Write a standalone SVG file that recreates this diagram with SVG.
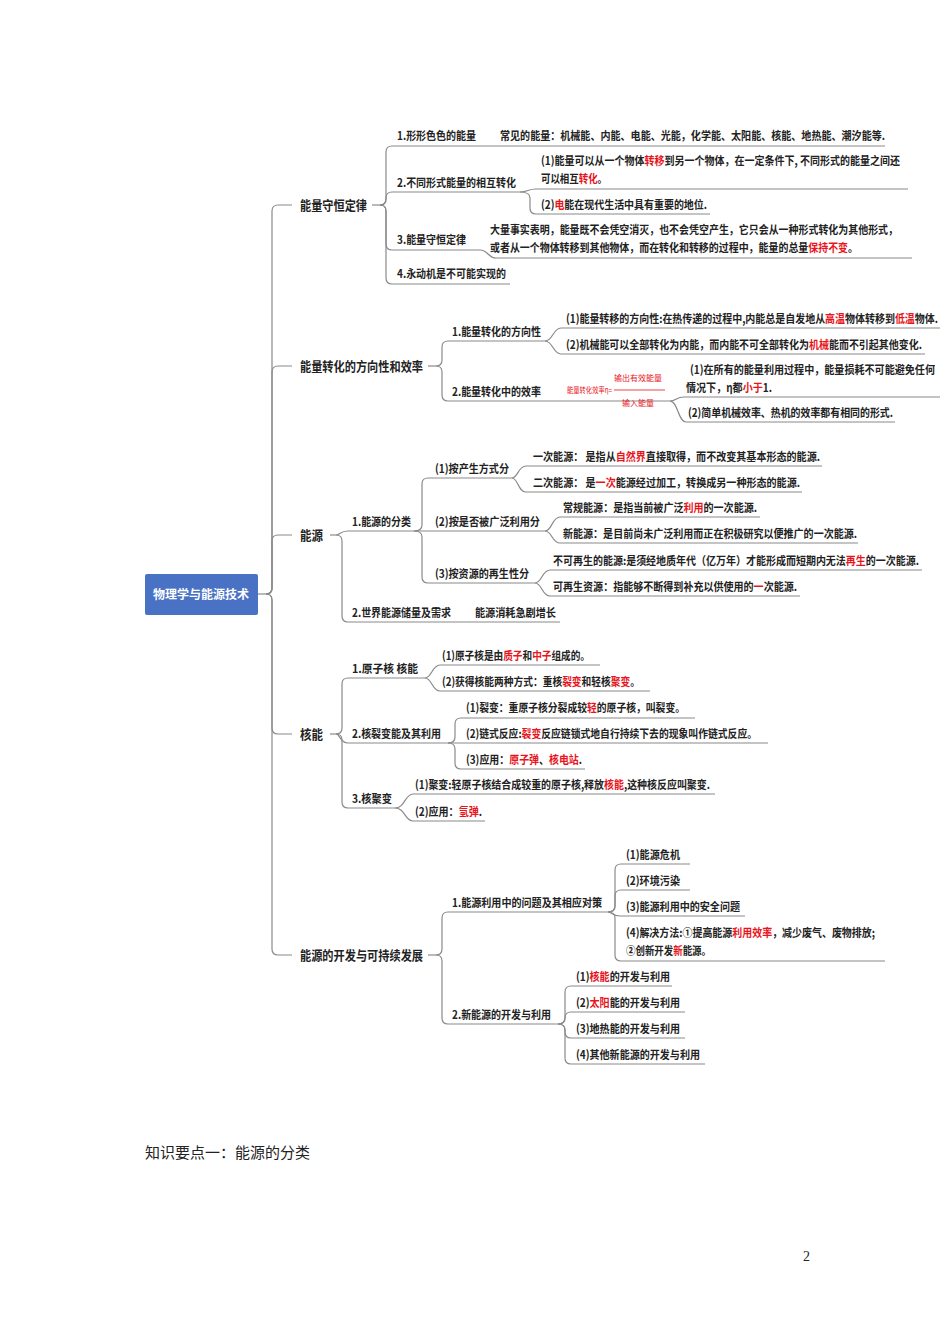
<svg xmlns="http://www.w3.org/2000/svg" width="950" height="1344" viewBox="0 0 950 1344">
<style>
text{font-family:"Noto Sans CJK SC","Noto Sans",sans-serif;font-weight:bold;font-size:11.5px;fill:#222}
.m{font-size:13px}
.r{fill:#e8141c}
.s{font-size:8px;font-weight:normal;fill:#e8141c}
#connectors path{fill:none;stroke:#8a8a8a;stroke-width:1.2}
</style>
<rect width="950" height="1344" fill="#fff"/>
<g id="connectors">
<path d="M258 594 H266"/>
<path d="M266 594 Q272 594 272 588 V211 Q272 205 278 205 H292"/>
<path d="M266 594 Q272 594 272 588 V372 Q272 366 278 366 H292"/>
<path d="M266 594 Q272 594 272 588 V541 Q272 535 278 535 H292"/>
<path d="M266 594 Q272 594 272 600 V728 Q272 734 278 734 H292"/>
<path d="M266 594 Q272 594 272 600 V949 Q272 955 278 955 H292"/>
<path d="M372 205 H380"/>
<path d="M380 205 Q386 205 386 199 V152 Q386 146 392 146 H885"/>
<path d="M380 205 Q386 205 386 199 V198 Q386 192 392 192 H520"/>
<path d="M380 205 Q386 205 386 211 V244 Q386 250 392 250 H480 C488 250 488 258 496 258 H912"/>
<path d="M380 205 Q386 205 386 211 V278 Q386 284 392 284 H510"/>
<path d="M520 192 C528 192 528 189 536 189 H908"/>
<path d="M520 192 Q530 192 530 198 V208 Q530 214 536 214 H710"/>
<path d="M428 366 H436"/>
<path d="M436 366 Q442 366 442 360 V347 Q442 341 448 341 H545"/>
<path d="M436 366 Q442 366 442 372 V395 Q442 401 448 401 H670"/>
<path d="M545 341 C553 341 553 328 561 328 H940"/>
<path d="M545 341 C553 341 553 354 561 354 H925"/>
<path d="M670 401 C676 401 676 397 684 397 H940"/>
<path d="M670 401 C678 401 678 422 686 422 H895"/>
<path d="M330 535 H336"/>
<path d="M336 535 C340 535 340 531 348 531 H414"/>
<path d="M336 535 Q342 535 342 541 V616 Q342 622 348 622 H560"/>
<path d="M414 531 Q422 531 422 525 V484 Q422 478 428 478 H512"/>
<path d="M414 531 H545"/>
<path d="M414 531 Q422 531 422 537 V577 Q422 583 428 583 H535"/>
<path d="M512 478 C518 478 518 466 526 466 H822"/>
<path d="M512 478 C518 478 518 492 526 492 H802"/>
<path d="M545 531 C552 531 552 517 560 517 H760"/>
<path d="M545 531 C552 531 552 543 560 543 H858"/>
<path d="M535 583 C542 583 542 570 550 570 H922"/>
<path d="M535 583 C542 583 542 596 550 596 H800"/>
<path d="M330 734 H336"/>
<path d="M336 734 Q342 734 342 728 V684 Q342 678 348 678 H425"/>
<path d="M336 734 C340 734 340 743 348 743 H448"/>
<path d="M336 734 Q342 734 342 740 V802 Q342 808 348 808 H395"/>
<path d="M425 678 C432 678 432 665 440 665 H600"/>
<path d="M425 678 C432 678 432 691 440 691 H650"/>
<path d="M448 743 Q455 743 455 737 V724 Q455 718 461 718 H695"/>
<path d="M448 743 H768"/>
<path d="M448 743 Q455 743 455 749 V763 Q455 769 461 769 H585"/>
<path d="M395 808 C405 808 405 794 413 794 H715"/>
<path d="M395 808 C405 808 405 821 413 821 H485"/>
<path d="M428 955 H436"/>
<path d="M436 955 Q442 955 442 949 V918 Q442 912 448 912 H608"/>
<path d="M436 955 Q442 955 442 961 V1018 Q442 1024 448 1024 H558"/>
<path d="M608 912 Q615 912 615 906 V870 Q615 864 621 864 H690"/>
<path d="M608 912 Q615 912 615 906 V896 Q615 890 621 890 H690"/>
<path d="M608 912 C612 912 612 916 620 916 H745"/>
<path d="M608 912 Q615 912 615 918 V955 Q615 961 621 961 H885"/>
<path d="M558 1024 Q565 1024 565 1018 V992 Q565 986 571 986 H672"/>
<path d="M558 1024 Q565 1024 565 1018 V1018 Q565 1012 571 1012 H685"/>
<path d="M558 1024 Q565 1024 565 1030 V1032 Q565 1038 571 1038 H685"/>
<path d="M558 1024 Q565 1024 565 1030 V1058 Q565 1064 571 1064 H705"/>
<line x1="614" y1="390" x2="665" y2="390" stroke="#e8141c" stroke-width="0.8"/>
</g>
<g id="root"><rect x="145" y="574" width="113" height="41" rx="2" fill="#4a72c4"/><text x="201" y="599" text-anchor="middle" style="fill:#fff;font-size:12px">物理学与能源技术</text></g>
<g id="n1"><text class="m" x="300" y="210" textLength="67" lengthAdjust="spacingAndGlyphs">能量守恒定律</text></g>
<g id="n1a"><text x="397" y="140" textLength="79" lengthAdjust="spacingAndGlyphs">1.形形色色的能量</text><text x="500" y="140" textLength="385" lengthAdjust="spacingAndGlyphs">常见的能量：机械能、内能、电能、光能，化学能、太阳能、核能、地热能、潮汐能等.</text></g>
<g id="n1b"><text x="397" y="187" textLength="119" lengthAdjust="spacingAndGlyphs">2.不同形式能量的相互转化</text>
<text x="541" y="165" textLength="359" lengthAdjust="spacingAndGlyphs">(1)能量可以从一个物体<tspan class="r">转移</tspan>到另一个物体，在一定条件下, 不同形式的能量之间还</text>
<text x="541" y="183" textLength="66" lengthAdjust="spacingAndGlyphs">可以相互<tspan class="r">转化</tspan>。</text>
<text x="541" y="209" textLength="166" lengthAdjust="spacingAndGlyphs">(2)<tspan class="r">电</tspan>能在现代生活中具有重要的地位.</text></g>
<g id="n1c"><text x="397" y="244" textLength="69" lengthAdjust="spacingAndGlyphs">3.能量守恒定律</text>
<text x="490" y="234" textLength="408" lengthAdjust="spacingAndGlyphs">大量事实表明，能量既不会凭空消灭，也不会凭空产生，它只会从一种形式转化为其他形式，</text>
<text x="490" y="252" textLength="368" lengthAdjust="spacingAndGlyphs">或者从一个物体转移到其他物体，而在转化和转移的过程中，能量的总量<tspan class="r">保持不变</tspan>。</text></g>
<g id="n1d"><text x="397" y="278" textLength="109" lengthAdjust="spacingAndGlyphs">4.永动机是不可能实现的</text></g>
<g id="n2"><text class="m" x="300" y="371" textLength="123" lengthAdjust="spacingAndGlyphs">能量转化的方向性和效率</text></g>
<g id="n2a"><text x="452" y="336" textLength="89" lengthAdjust="spacingAndGlyphs">1.能量转化的方向性</text>
<text x="566" y="323" textLength="372" lengthAdjust="spacingAndGlyphs">(1)能量转移的方向性:在热传递的过程中,内能总是自发地从<tspan class="r">高温</tspan>物体转移到<tspan class="r">低温</tspan>物体.</text>
<text x="566" y="349" textLength="356" lengthAdjust="spacingAndGlyphs">(2)机械能可以全部转化为内能，而内能不可全部转化为<tspan class="r">机械</tspan>能而不引起其他变化.</text></g>
<g id="n2b"><text x="452" y="396" textLength="89" lengthAdjust="spacingAndGlyphs">2.能量转化中的效率</text>
<text class="s" x="567" y="393" textLength="45" lengthAdjust="spacingAndGlyphs">能量转化效率η=</text>
<text class="s" x="638" y="381" text-anchor="middle">输出有效能量</text>
<text class="s" x="638" y="406" text-anchor="middle">输入能量</text>
<text x="690" y="374" textLength="245" lengthAdjust="spacingAndGlyphs">(1)在所有的能量利用过程中，能量损耗不可能避免任何</text>
<text x="686" y="392" textLength="86" lengthAdjust="spacingAndGlyphs">情况下，η都<tspan class="r">小于</tspan>1.</text>
<text x="688" y="417" textLength="205" lengthAdjust="spacingAndGlyphs">(2)简单机械效率、热机的效率都有相同的形式.</text></g>
<g id="n3"><text class="m" x="300" y="540" textLength="23" lengthAdjust="spacingAndGlyphs">能源</text></g>
<g id="n3a"><text x="352" y="526" textLength="59" lengthAdjust="spacingAndGlyphs">1.能源的分类</text>
<text x="435" y="473" textLength="74" lengthAdjust="spacingAndGlyphs">(1)按产生方式分</text>
<text x="533" y="461" textLength="287" lengthAdjust="spacingAndGlyphs">一次能源： 是指从<tspan class="r">自然界</tspan>直接取得，而不改变其基本形态的能源.</text>
<text x="533" y="487" textLength="267" lengthAdjust="spacingAndGlyphs">二次能源： 是<tspan class="r">一次</tspan>能源经过加工，转换成另一种形态的能源.</text>
<text x="435" y="526" textLength="105" lengthAdjust="spacingAndGlyphs">(2)按是否被广泛利用分</text>
<text x="563" y="512" textLength="194" lengthAdjust="spacingAndGlyphs">常规能源：是指当前被广泛<tspan class="r">利用</tspan>的一次能源.</text>
<text x="563" y="538" textLength="294" lengthAdjust="spacingAndGlyphs">新能源：是目前尚未广泛利用而正在积极研究以便推广的一次能源.</text>
<text x="435" y="578" textLength="94" lengthAdjust="spacingAndGlyphs">(3)按资源的再生性分</text>
<text x="553" y="565" textLength="366" lengthAdjust="spacingAndGlyphs">不可再生的能源:是须经地质年代（亿万年）才能形成而短期内无法<tspan class="r">再生</tspan>的一次能源.</text>
<text x="553" y="591" textLength="244" lengthAdjust="spacingAndGlyphs">可再生资源：指能够不断得到补充以供使用的<tspan class="r">一</tspan>次能源.</text></g>
<g id="n3b"><text x="352" y="617" textLength="99" lengthAdjust="spacingAndGlyphs">2.世界能源储量及需求</text><text x="475" y="617" textLength="81" lengthAdjust="spacingAndGlyphs">能源消耗急剧增长</text></g>
<g id="n4"><text class="m" x="300" y="739" textLength="23" lengthAdjust="spacingAndGlyphs">核能</text></g>
<g id="n4a"><text x="352" y="673" textLength="66" lengthAdjust="spacingAndGlyphs">1.原子核  核能</text>
<text x="442" y="660" textLength="148" lengthAdjust="spacingAndGlyphs">(1)原子核是由<tspan class="r">质子</tspan>和<tspan class="r">中子</tspan>组成的。</text>
<text x="442" y="686" textLength="198" lengthAdjust="spacingAndGlyphs">(2)获得核能两种方式：重核<tspan class="r">裂变</tspan>和轻核<tspan class="r">聚变</tspan>。</text></g>
<g id="n4b"><text x="352" y="738" textLength="89" lengthAdjust="spacingAndGlyphs">2.核裂变能及其利用</text>
<text x="466" y="712" textLength="219" lengthAdjust="spacingAndGlyphs">(1)裂变：重原子核分裂成较<tspan class="r">轻</tspan>的原子核，叫裂变。</text>
<text x="466" y="738" textLength="291" lengthAdjust="spacingAndGlyphs">(2)链式反应:<tspan class="r">裂变</tspan>反应链锁式地自行持续下去的现象叫作链式反应。</text>
<text x="466" y="764" textLength="116" lengthAdjust="spacingAndGlyphs">(3)应用：<tspan class="r">原子弹</tspan>、<tspan class="r">核电站</tspan>.</text></g>
<g id="n4c"><text x="352" y="803" textLength="40" lengthAdjust="spacingAndGlyphs">3.核聚变</text>
<text x="415" y="789" textLength="295" lengthAdjust="spacingAndGlyphs">(1)聚变:轻原子核结合成较重的原子核,释放<tspan class="r">核能</tspan>,这种核反应叫聚变.</text>
<text x="415" y="816" textLength="67" lengthAdjust="spacingAndGlyphs">(2)应用：<tspan class="r">氢弹</tspan>.</text></g>
<g id="n5"><text class="m" x="300" y="960" textLength="123" lengthAdjust="spacingAndGlyphs">能源的开发与可持续发展</text></g>
<g id="n5a"><text x="452" y="907" textLength="150" lengthAdjust="spacingAndGlyphs">1.能源利用中的问题及其相应对策</text>
<text x="626" y="859" textLength="54" lengthAdjust="spacingAndGlyphs">(1)能源危机</text>
<text x="626" y="885" textLength="54" lengthAdjust="spacingAndGlyphs">(2)环境污染</text>
<text x="626" y="911" textLength="114" lengthAdjust="spacingAndGlyphs">(3)能源利用中的安全问题</text>
<text x="626" y="937" textLength="249" lengthAdjust="spacingAndGlyphs">(4)解决方法:①提高能源<tspan class="r">利用效率</tspan>，减少废气、废物排放;</text>
<text x="626" y="955" textLength="85" lengthAdjust="spacingAndGlyphs">②创新开发<tspan class="r">新</tspan>能源。</text></g>
<g id="n5b"><text x="452" y="1019" textLength="99" lengthAdjust="spacingAndGlyphs">2.新能源的开发与利用</text>
<text x="576" y="981" textLength="94" lengthAdjust="spacingAndGlyphs">(1)<tspan class="r">核能</tspan>的开发与利用</text>
<text x="576" y="1007" textLength="104" lengthAdjust="spacingAndGlyphs">(2)<tspan class="r">太阳</tspan>能的开发与利用</text>
<text x="576" y="1033" textLength="104" lengthAdjust="spacingAndGlyphs">(3)地热能的开发与利用</text>
<text x="576" y="1059" textLength="124" lengthAdjust="spacingAndGlyphs">(4)其他新能源的开发与利用</text></g>
<text x="145" y="1158" style="font-family:'Noto Sans CJK SC',serif;font-weight:normal;font-size:15px">知识要点一：能源的分类</text>
<text x="803" y="1261" style="font-family:'Liberation Serif',serif;font-weight:normal;font-size:14px">2</text>
</svg>
